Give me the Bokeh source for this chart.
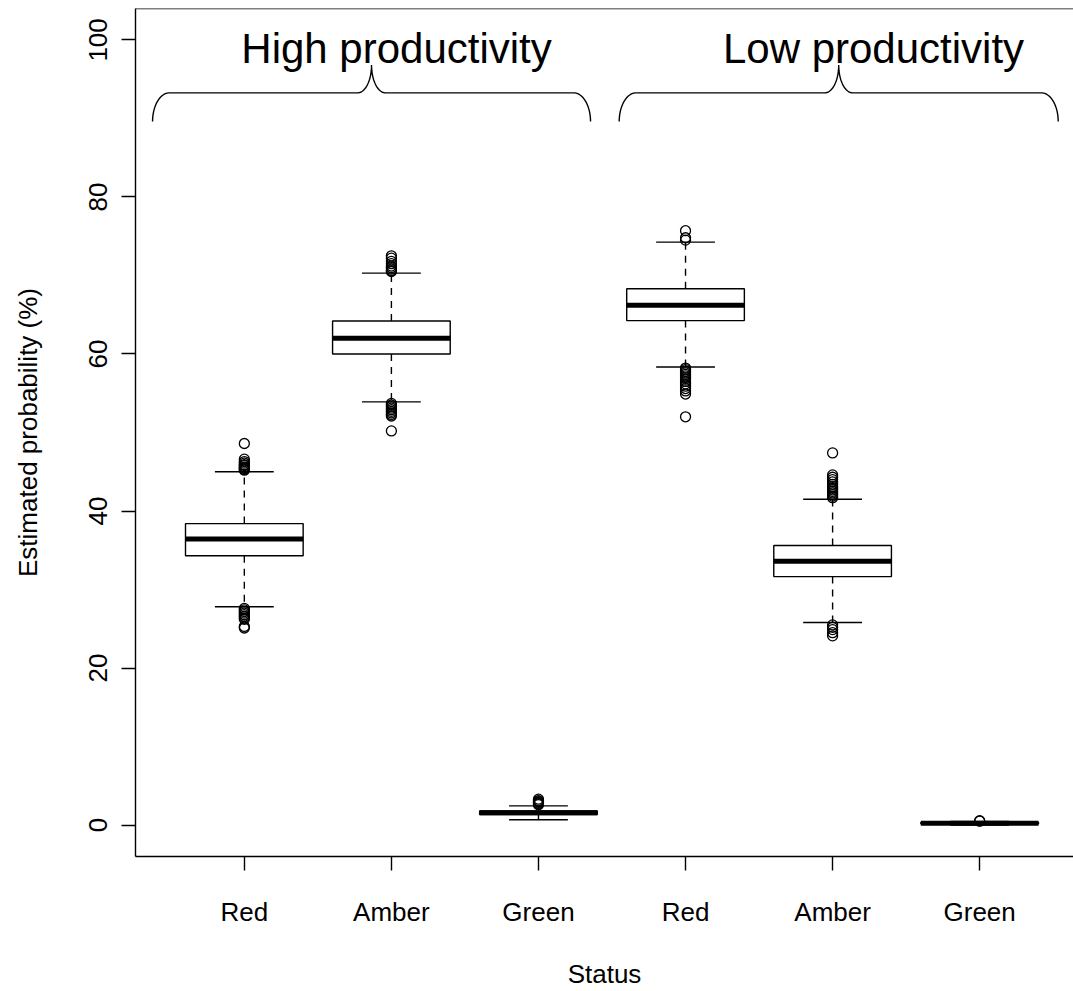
import numpy as np
from bokeh.plotting import figure
from bokeh.models import Range1d, FixedTicker, Span, ColumnDataSource
from bokeh.core.properties import value
from bokeh.embed import file_html
from bokeh.resources import INLINE

# ---------------- data ----------------
status = ["Red", "Amber", "Green", "Red", "Amber", "Green"]
positions = [1, 2, 3, 4, 5, 6]
q1 = [34.3, 60.0, 1.35, 64.25, 31.65, 0.15]
median = [36.45, 62.0, 1.57, 66.2, 33.6, 0.25]
q3 = [38.4, 64.2, 1.8, 68.3, 35.6, 0.35]
whisk_lo = [27.8, 53.9, 0.68, 58.35, 25.8, 0.0]
whisk_hi = [45.0, 70.3, 2.45, 74.25, 41.5, 0.45]
outliers = [
    [45.2, 45.3, 45.4, 45.5, 45.6, 45.8, 45.9, 46.1, 46.3, 46.6, 48.6,
     27.6, 27.4, 27.2, 27.0, 26.8, 26.6, 26.4, 26.2, 25.3, 25.1],
    [72.5, 72.2, 71.8, 71.5, 71.2, 71.0, 70.8, 70.6, 70.5,
     53.7, 53.5, 53.3, 53.1, 52.9, 52.7, 52.5, 52.3, 52.1, 50.2],
    [2.6, 2.7, 2.8, 2.9, 3.0, 3.1, 3.3],
    [75.7, 74.8, 74.5,
     58.2, 58.0, 57.8, 57.6, 57.4, 57.2, 57.0, 56.8, 56.5, 56.2, 55.9,
     55.6, 55.3, 54.9, 52.0],
    [41.7, 41.9, 42.1, 42.3, 42.5, 42.7, 42.9, 43.1, 43.4, 43.7, 44.0,
     44.3, 44.6, 47.4,
     25.5, 25.2, 24.9, 24.5, 24.1],
    [0.5, 0.55],
]
group_labels = ["High productivity", "Low productivity"]
group_label_x = [2.035, 5.278]
brace_start = [0.376, 3.549]
brace_end = [3.354, 6.534]

FONT = "Liberation Sans"
LW = 1.4

p = figure(width=1073, height=991,
           x_range=Range1d(0.26, 6.638), y_range=Range1d(-4, 104),
           output_backend="svg", toolbar_location=None,
           min_border_left=135, min_border_right=0,
           min_border_top=8, min_border_bottom=133)
p.grid.visible = False
p.outline_line_color = None
p.background_fill_color = "white"
p.border_fill_color = "white"

# top border of the box (right side is cut off in the reference)
p.add_layout(Span(location=104, dimension="width", line_color="black", line_width=LW))

# ---------------- boxes ----------------
half = 0.4
src = ColumnDataSource(dict(
    x=positions,
    left=[x - half for x in positions],
    right=[x + half for x in positions],
    sl=[x - half / 2 for x in positions],
    sr=[x + half / 2 for x in positions],
    q1=q1, q3=q3, med=median, lo=whisk_lo, hi=whisk_hi,
))

# whiskers (dashed)
p.segment(x0="x", y0="q3", x1="x", y1="hi", source=src, line_color="black",
          line_width=LW, line_dash="7 6")
p.segment(x0="x", y0="q1", x1="x", y1="lo", source=src, line_color="black",
          line_width=LW, line_dash="7 6")
# staples
p.segment(x0="sl", y0="hi", x1="sr", y1="hi", source=src, line_color="black", line_width=LW)
p.segment(x0="sl", y0="lo", x1="sr", y1="lo", source=src, line_color="black", line_width=LW)
# box
p.quad(left="left", right="right", bottom="q1", top="q3", source=src,
       fill_color="white", line_color="black", line_width=LW)
# median
p.segment(x0="left", y0="med", x1="right", y1="med", source=src,
          line_color="black", line_width=5, line_cap="butt")

# outliers
ox, oy = [], []
for x, vals in zip(positions, outliers):
    ox += [x] * len(vals)
    oy += vals
p.scatter(ox, oy, marker="circle", size=10, fill_color=None,
          line_color="black", line_width=1.3)

# ---------------- braces ----------------
Y_END, Y_BAR, Y_TIP = 89.6, 93.26, 96.8
RX_END, RX_TIP = 0.115, 0.095


def brace_path(x0, x1):
    xm = (x0 + x1) / 2
    n = 24
    t1 = np.linspace(np.pi, np.pi / 2, n)
    xa = x0 + RX_END + RX_END * np.cos(t1)
    ya = Y_END + (Y_BAR - Y_END) * np.sin(t1)
    t2 = np.linspace(-np.pi / 2, 0, n)
    xb = xm - RX_TIP + RX_TIP * np.cos(t2)
    yb = Y_TIP + (Y_TIP - Y_BAR) * np.sin(t2)
    t3 = np.linspace(np.pi, 1.5 * np.pi, n)
    xc = xm + RX_TIP + RX_TIP * np.cos(t3)
    yc = Y_TIP + (Y_TIP - Y_BAR) * np.sin(t3)
    t4 = np.linspace(np.pi / 2, 0, n)
    xd = x1 - RX_END + RX_END * np.cos(t4)
    yd = Y_END + (Y_BAR - Y_END) * np.sin(t4)
    return (np.concatenate([xa, xb, xc, xd]).tolist(),
            np.concatenate([ya, yb, yc, yd]).tolist())


for b0, b1 in zip(brace_start, brace_end):
    bx, by = brace_path(b0, b1)
    p.line(bx, by, line_color="black", line_width=LW)

p.text(x=group_label_x, y=[98.9, 98.9], text=group_labels,
       text_font=value(FONT), text_font_size="42px", text_color="black",
       text_align="center", text_baseline="alphabetic")

# ---------------- axes ----------------
p.xaxis.ticker = FixedTicker(ticks=positions)
p.xaxis.major_label_overrides = {x: s for x, s in zip(positions, status)}
p.yaxis.ticker = FixedTicker(ticks=[0, 20, 40, 60, 80, 100])
p.yaxis.major_label_orientation = "vertical"
p.xaxis.axis_label = "Status"
p.yaxis.axis_label = "Estimated probability (%)"

for ax in (p.xaxis[0], p.yaxis[0]):
    ax.axis_line_color = "black"
    ax.axis_line_width = LW
    ax.major_tick_line_color = "black"
    ax.major_tick_line_width = LW
    ax.major_tick_in = 0
    ax.major_tick_out = 14
    ax.minor_tick_line_color = None
    ax.major_label_text_font = FONT
    ax.major_label_text_font_size = "26px"
    ax.major_label_text_color = "black"
    ax.axis_label_text_font = FONT
    ax.axis_label_text_font_size = "26px"
    ax.axis_label_text_font_style = "normal"
    ax.axis_label_text_color = "black"

p.xaxis.major_label_standoff = 26
p.xaxis.axis_label_standoff = 29
p.yaxis.major_label_standoff = 14
p.yaxis.axis_label_standoff = 44

open("out.html", "w").write(file_html(p, INLINE))
